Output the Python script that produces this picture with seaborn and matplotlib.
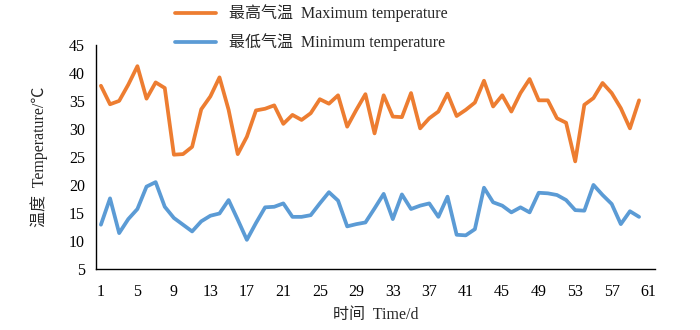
import numpy as np
import pandas as pd
import matplotlib
matplotlib.use("Agg")
import matplotlib.pyplot as plt
import seaborn as sns

days = list(range(1, 61))
max_temp = [37.7, 34.4, 35.0, 37.9, 41.2, 35.4, 38.3, 37.3, 25.4, 25.5,
            26.8, 33.5, 35.8, 39.2, 33.4, 25.5, 28.6, 33.3, 33.6, 34.2,
            30.9, 32.5, 31.6, 32.8, 35.3, 34.5, 36.0, 30.4, 33.4, 36.2,
            29.2, 36.0, 32.2, 32.1, 36.4, 30.1, 31.9, 33.1, 36.3, 32.3,
            33.4, 34.7, 38.6, 34.0, 36.0, 33.1, 36.4, 38.9, 35.1, 35.1,
            31.9, 31.1, 24.2, 34.3, 35.5, 38.2, 36.4, 33.7, 30.1, 35.1]
min_temp = [12.9, 17.6, 11.4, 13.9, 15.7, 19.7, 20.5, 16.1, 14.1, 12.9,
            11.7, 13.5, 14.5, 14.9, 17.3, 13.8, 10.2, 13.2, 16.0, 16.1,
            16.7, 14.3, 14.3, 14.6, 16.7, 18.7, 17.2, 12.6, 13.0, 13.3,
            15.8, 18.4, 13.9, 18.3, 15.7, 16.3, 16.7, 14.3, 17.9, 11.1,
            11.0, 12.1, 19.5, 16.9, 16.3, 15.1, 16.0, 15.1, 18.6, 18.5,
            18.2, 17.3, 15.5, 15.4, 20.0, 18.2, 16.6, 13.0, 15.3, 14.3]
series_labels = ["最高气温  Maximum temperature", "最低气温  Minimum temperature"]
x_ticks = list(range(1, 62, 4))
y_ticks = list(range(5, 46, 5))

df = pd.DataFrame({
    "day": days * 2,
    "temp": max_temp + min_temp,
    "series": [series_labels[0]] * len(days) + [series_labels[1]] * len(days),
})

sns.set_theme(style="white")
fonts = ["Liberation Serif", "Noto Sans CJK SC", "DejaVu Sans"]
plt.rcParams["font.family"] = fonts

fig = plt.figure(figsize=(7, 3.3), dpi=100)
ax = fig.add_axes([0.137, 0.185, 0.799, 0.679])

palette = {series_labels[0]: "#ED7D31", series_labels[1]: "#5B9BD5"}
sns.lineplot(data=df, x="day", y="temp", hue="series", palette=palette,
             linewidth=2.7, ax=ax, legend=True)

ax.set_xlim(0.45, 61.77)
ax.set_ylim(5, 45)
ax.set_xticks(x_ticks)
ax.set_yticks(y_ticks)
ax.tick_params(axis="both", length=0, labelsize=11.5, colors="black")
ax.tick_params(axis="x", pad=11)
ax.tick_params(axis="y", pad=8)
for s in ["top", "right"]:
    ax.spines[s].set_visible(False)
for s in ["left", "bottom"]:
    ax.spines[s].set_color("black")
    ax.spines[s].set_linewidth(1.0)
ax.grid(False)

ax.set_xlabel("时间  Time/d", fontsize=11.5, labelpad=5)
ax.set_ylabel("温度  Temperature/℃", fontsize=11.5, labelpad=15)

handles, labels = ax.get_legend_handles_labels()
ax.legend(handles, labels, loc="upper left", bbox_to_anchor=(0.236, 1.015),
          bbox_transform=fig.transFigure, frameon=False, fontsize=11.5,
          handlelength=2.6, handletextpad=0.8, labelspacing=0.7,
          borderpad=0.1)

fig.savefig("out.png", dpi=100)
